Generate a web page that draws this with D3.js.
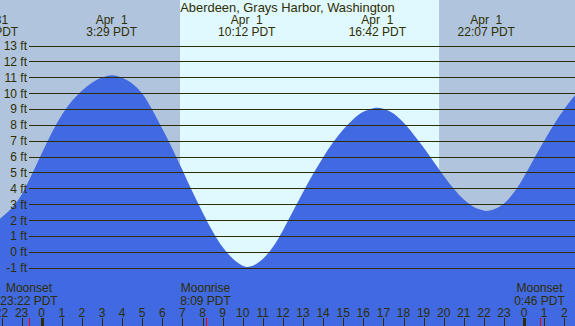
<!DOCTYPE html>
<html><head><meta charset="utf-8">
<script src="https://cdn.jsdelivr.net/npm/d3@7"></script>
<style>html,body{margin:0;padding:0;overflow:hidden;background:#b0c4de}</style>
</head><body>
<svg id="c" width="575" height="326"></svg>
<script>
// ---- data ----
const title = "Aberdeen, Grays Harbor, Washington";
const tideHours = [-2.1,-2.0,-1.5,-1.0,-0.5,0,0.5,1,1.5,2,2.5,3,3.5,4,4.5,5,5.5,6,6.5,7,7.5,8,8.5,9,9.5,10,10.2,10.5,11,11.5,12,12.5,13,13.5,14,14.5,15,15.5,16,16.5,16.7,17,17.5,18,18.5,19,19.5,20,20.5,21,21.5,22,22.12,22.5,23,23.5,24,24.5,25,25.5,26,26.5,26.7];
const tideFeet  = [2.07,2.17,2.75,3.6,4.85,6.2,7.5,8.62,9.5,10.15,10.65,10.98,11.12,10.97,10.6,9.97,8.95,7.75,6.5,5.15,3.78,2.5,1.3,0.3,-0.42,-0.88,-0.95,-0.88,-0.45,0.3,1.35,2.55,3.75,4.9,5.95,6.9,7.7,8.35,8.82,9.05,9.08,9.02,8.72,8.15,7.4,6.58,5.68,4.8,3.98,3.3,2.83,2.6,2.57,2.68,3.05,3.75,4.75,5.88,7.0,8.05,9.0,9.8,10.05];
const extremeHours = [-2.6, 3.483, 10.2, 16.7, 22.117];
const extremeDates = ["Mar 31", "Apr  1", "Apr  1", "Apr  1", "Apr  1"];
const extremeTimes = ["21:24 PDT", "3:29 PDT", "10:12 PDT", "16:42 PDT", "22:07 PDT"];
const moonHours = [-0.633, 8.15, 24.767];
const moonNames = ["Moonset", "Moonrise", "Moonset"];
const moonTimes = ["23:22 PDT", "8:09 PDT", "0:46 PDT"];
const sunriseHour = 6.88, sunsetHour = 19.77;
const feetTicks = [-1,0,1,2,3,4,5,6,7,8,9,10,11,12,13];
const hourTicks = d3.range(-2, 27);

// ---- layout ----
const W = 575, H = 326;
const x = d3.scaleLinear().domain([0, 24]).range([41.7, 524.1]);
const y = d3.scaleLinear().domain([-1, 13]).range([267.7, 45.5]);
const ink = "#2e2e00";
const font = "'Liberation Sans', Arial, sans-serif";
const svg = d3.select("#c");

// sky
svg.append("rect").attr("x",0).attr("y",0).attr("width",W).attr("height",H).attr("fill","#b0c4de");
svg.append("rect").attr("x",x(sunriseHour)).attr("y",0)
  .attr("width",x(sunsetHour)-x(sunriseHour)).attr("height",H).attr("fill","#e0f8ff");

// tide
const pts = tideHours.map((h,i)=>[h, tideFeet[i]]);
const area = d3.area().x(d=>x(d[0])).y0(H).y1(d=>y(d[1])).curve(d3.curveCatmullRom.alpha(0.5));
svg.append("path").datum(pts).attr("d", area).attr("fill","#4169e1");

// grid
svg.append("g").selectAll("line").data(feetTicks).join("line")
  .attr("x1",29).attr("x2",W).attr("y1",d=>Math.round(y(d))+0.5).attr("y2",d=>Math.round(y(d))+0.5)
  .attr("stroke",ink).attr("stroke-width",1).attr("shape-rendering","crispEdges");
svg.append("g").selectAll("text").data(feetTicks).join("text")
  .attr("x",27).attr("y",d=>y(d)+4.5).attr("text-anchor","end")
  .attr("font-family",font).attr("font-size",12).attr("fill",ink)
  .text(d=>d+" ft");

// title
svg.append("text").attr("x",287.5).attr("y",11.5).attr("text-anchor","middle")
  .attr("font-family",font).attr("font-size",12.9).attr("fill",ink).text(title);

// extremes labels
const ex = svg.append("g").attr("font-family",font).attr("font-size",12).attr("fill",ink).attr("text-anchor","middle");
extremeHours.forEach((h,i)=>{
  ex.append("text").attr("x",x(h)).attr("y",23.5).style("white-space","pre").text(extremeDates[i]);
  ex.append("text").attr("x",x(h)).attr("y",36).text(extremeTimes[i]);
});

// hour axis
const ax = svg.append("g").attr("font-family",font).attr("font-size",12).attr("fill",ink).attr("text-anchor","middle");
hourTicks.forEach(h=>{
  ax.append("text").attr("x",x(h)).attr("y",317).text(((h%24)+24)%24);
  const mid = (h%24===0);
  ax.append("rect").attr("x",Math.round(x(h)) - (mid?1.5:0.5)).attr("y",318)
    .attr("width",mid?3:1).attr("height",8).attr("fill",ink).attr("shape-rendering","crispEdges");
});

// moon events
moonHours.forEach((h,i)=>{
  ax.append("rect").attr("x",Math.round(x(h))-0.5).attr("y",318).attr("width",1).attr("height",8)
    .attr("fill","#ff0000").attr("shape-rendering","crispEdges");
  ax.append("text").attr("x",x(h)).attr("y",292).text(moonNames[i]);
  ax.append("text").attr("x",x(h)).attr("y",304.5).text(moonTimes[i]);
});
</script>
</body></html>
